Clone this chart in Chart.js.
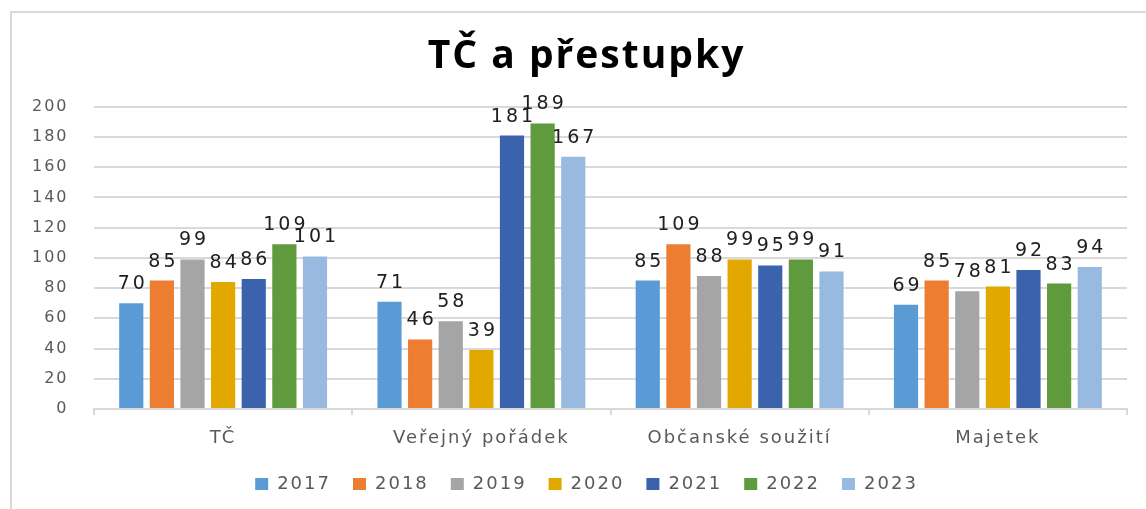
<!DOCTYPE html>
<html><head><meta charset="utf-8">
<script src="https://cdn.jsdelivr.net/npm/chart.js@4.4.1/dist/chart.umd.min.js"></script>
<style>html,body{margin:0;padding:0;background:#fff;overflow:hidden}#wrap{position:relative;width:1146px;height:509px}</style>
</head><body><div id="wrap"><canvas id="c" width="1146" height="509"></canvas></div>
<script>
const chartTitle = 'TČ a přestupky';
const categories = ['TČ', 'Veřejný pořádek', 'Občanské soužití', 'Majetek'];
const years = ['2017', '2018', '2019', '2020', '2021', '2022', '2023'];
const v2017 = [70, 71, 85, 69];
const v2018 = [85, 46, 109, 85];
const v2019 = [99, 58, 88, 78];
const v2020 = [84, 39, 99, 81];
const v2021 = [86, 181, 95, 92];
const v2022 = [109, 189, 99, 83];
const v2023 = [101, 167, 91, 94];
const yTicks = [0, 20, 40, 60, 80, 100, 120, 140, 160, 180, 200];

const seriesValues = [v2017, v2018, v2019, v2020, v2021, v2022, v2023];
const colors = ['#5B9BD5', '#ED7D31', '#A5A5A5', '#E2A800', '#3B63AD', '#5F9A3D', '#98B9E0'];

const spacingPlugin = {
  id: 'spacing',
  beforeUpdate(chart) { chart.ctx.letterSpacing = '2px'; },
  beforeDraw(chart) { chart.ctx.letterSpacing = '2px'; }
};

const framePlugin = {
  id: 'frame',
  afterDraw(chart) {
    const ctx = chart.ctx;
    ctx.save();
    ctx.strokeStyle = '#d9d9d9';
    ctx.lineWidth = 2;
    ctx.beginPath();
    ctx.moveTo(11, 509);
    ctx.lineTo(11, 12);
    ctx.lineTo(1146, 12);
    ctx.stroke();
    ctx.restore();
  }
};

const labelPlugin = {
  id: 'barLabels',
  afterDatasetsDraw(chart) {
    const ctx = chart.ctx;
    ctx.save();
    ctx.letterSpacing = '3px';
    ctx.font = '19px "DejaVu Sans"';
    ctx.fillStyle = '#202020';
    ctx.textAlign = 'center';
    ctx.textBaseline = 'alphabetic';
    chart.data.datasets.forEach((ds, i) => {
      const meta = chart.getDatasetMeta(i);
      meta.data.forEach((el, j) => {
        ctx.fillText(String(ds.data[j]), el.x + 1.5, el.y - 14);
      });
    });
    ctx.restore();
  }
};

new Chart(document.getElementById('c'), {
  type: 'bar',
  data: {
    labels: categories,
    datasets: years.map((y, i) => ({
      label: y,
      data: seriesValues[i],
      backgroundColor: colors[i],
      borderWidth: 0,
      categoryPercentage: 0.83,
      barPercentage: 0.79
    }))
  },
  options: {
    responsive: false,
    animation: false,
    devicePixelRatio: 1,
    layout: { padding: { left: 46, right: 19, top: 0, bottom: 6 } },
    plugins: {
      title: {
        display: true,
        text: chartTitle,
        color: '#000',
        font: { family: '"Open Sans"', size: 39, weight: 'bold' },
        padding: { top: 33, bottom: 27 }
      },
      legend: {
        position: 'bottom',
        labels: {
          boxWidth: 13,
          boxHeight: 12,
          padding: 22,
          color: '#595959',
          font: { family: '"DejaVu Sans"', size: 18 }
        }
      },
      tooltip: { enabled: false }
    },
    scales: {
      x: {
        grid: { display: true, drawOnChartArea: false, drawTicks: true, tickLength: 6, color: '#d9d9d9', lineWidth: 2 },
        border: { display: true, color: '#d9d9d9', width: 2 },
        ticks: { color: '#595959', font: { family: '"DejaVu Sans"', size: 18 }, padding: 13 },
        afterFit(s) { s.height = 44; }
      },
      y: {
        min: 0, max: 200,
        afterBuildTicks(s) { s.ticks = yTicks.map(v => ({ value: v })); },
        grid: { color: '#d9d9d9', lineWidth: 2, drawTicks: false },
        border: { display: false },
        ticks: { color: '#595959', font: { family: '"DejaVu Sans"', size: 16 }, mirror: true, crossAlign: 'far', padding: -62 },
        afterFit(s) { s.width = 48; }
      }
    }
  },
  plugins: [spacingPlugin, labelPlugin, framePlugin]
});
</script></body></html>
